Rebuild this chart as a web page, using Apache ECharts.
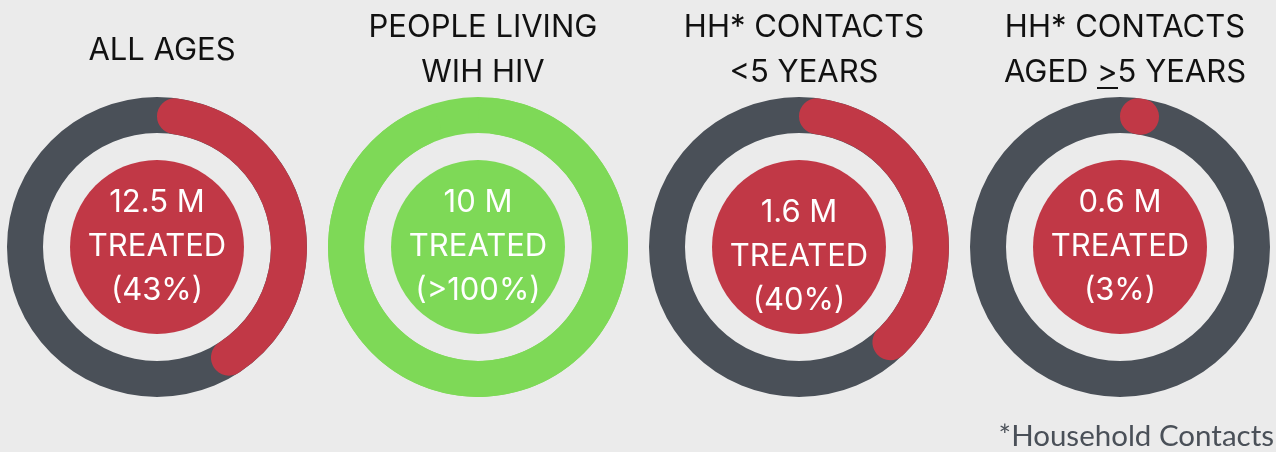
<!DOCTYPE html>
<html>
<head>
<meta charset="utf-8">
<script src="https://cdn.jsdelivr.net/npm/echarts@6/dist/echarts.min.js"></script>
<style>
  html, body { margin: 0; padding: 0; background: #ebebeb; }
  #container { width: 1276px; height: 452px; }
</style>
</head>
<body>
<div id="container"></div>
<script>
// chart values
var groupTitles = ['ALL AGES', 'PEOPLE LIVING\nWIH HIV', 'HH* CONTACTS\n<5 YEARS', 'HH* CONTACTS\nAGED {u|>}5 YEARS'];
var treatedLabels = ['12.5 M', '10 M', '1.6 M', '0.6 M'];
var percentLabels = ['43%', '>100%', '40%', '3%'];
var coverage = [43, 100, 40, 3];   // >100% drawn as a full ring
var targetMet = [false, true, false, false];
var footnote = '*Household Contacts';

var RED = '#c13846', GREY = '#4a5058', GREEN = '#7ed957';
var centersX = [157, 478, 799, 1120];
var centerY = 247;

// little underline image for the ">" (reads as "greater or equal")
var ul = document.createElement('canvas');
ul.width = 4; ul.height = 45;
var c = ul.getContext('2d');
c.fillStyle = '#111';
c.fillRect(0, 37, 4, 2);

var dom = document.getElementById('container');
var myChart = echarts.init(dom);

var titles = [];
var series = [];

for (var i = 0; i < coverage.length; i++) {
    var col = targetMet[i] ? GREEN : RED;
    var twoLines = groupTitles[i].indexOf('\n') >= 0;
    titles.push({
        text: groupTitles[i],
        left: centersX[i],
        top: twoLines ? 0 : 23,
        textAlign: 'center',
        textStyle: {
            fontFamily: 'Inter',
            fontSize: 31,
            fontWeight: 'normal',
            color: '#111',
            lineHeight: 45,
            rich: {u: {fontFamily: 'Inter', fontSize: 31, color: '#111', lineHeight: 45, height: 45,
                       backgroundColor: {image: ul}}}
        }
    });

    // background ring
    series.push({
        type: 'pie',
        silent: true,
        center: [centersX[i], centerY],
        radius: [114, 150],
        label: {show: false},
        data: [{value: 1, itemStyle: {color: targetMet[i] ? GREEN : GREY}}]
    });

    // coverage arc
    series.push({
        type: 'pie',
        silent: true,
        center: [centersX[i], centerY],
        radius: [114, 150],
        startAngle: 90,
        clockwise: true,
        minAngle: 17,
        label: {show: false},
        data: [
            {value: coverage[i], itemStyle: {color: col, borderRadius: 18}},
            {value: 100 - coverage[i], itemStyle: {color: 'rgba(0,0,0,0)'}}
        ]
    });

    // inner disk with text
    series.push({
        type: 'pie',
        silent: true,
        center: [centersX[i], centerY],
        radius: [0, 87],
        label: {
            show: true,
            position: 'center',
            formatter: treatedLabels[i] + '\nTREATED\n(' + percentLabels[i] + ')',
            fontFamily: 'Inter',
            fontSize: 31,
            color: '#fff',
            lineHeight: 44,
            offset: i === 2 ? [0, 10] : [0, 0]
        },
        labelLine: {show: false},
        data: [{value: 1, itemStyle: {color: col}}]
    });
}

titles.push({
    text: footnote,
    right: -3,
    bottom: -4,
    textStyle: {fontFamily: 'Lato', fontSize: 29.5, fontWeight: 'normal', color: GREY}
});

var option = {
    backgroundColor: '#ebebeb',
    animation: false,
    title: titles,
    series: series
};
myChart.setOption(option);
</script>
</body>
</html>
